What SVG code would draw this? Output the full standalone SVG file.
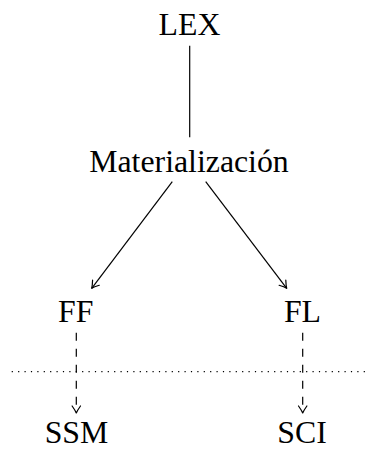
<svg xmlns="http://www.w3.org/2000/svg" width="365" height="450" viewBox="0 0 365 450">
<style>
text{font-family:"Liberation Serif","Times New Roman",serif;font-size:31.8px;fill:#000;text-anchor:middle}
.c{stroke:#000;stroke-width:1.2;fill:none}
.d{stroke-dasharray:8 8}
.o{stroke-dasharray:1.2 5.2}
</style>
<defs>
<marker id="ah" markerUnits="userSpaceOnUse" viewBox="-9 -6 11 12" refX="0" refY="0" markerWidth="11" markerHeight="12" orient="auto" overflow="visible">
<path d="M-7,-4.2 Q-2.5,-1 0,0 Q-2.5,1 -7,4.2" fill="none" stroke="#000" stroke-width="1.2" stroke-linecap="round" stroke-linejoin="round"/>
</marker>
</defs>
<rect width="365" height="450" fill="#fff"/>
<g id="connectors">
<line class="c" x1="189.7" y1="45.7" x2="189.7" y2="137.3"/>
<line class="c" x1="172.3" y1="181.7" x2="91.7" y2="288.3" marker-end="url(#ah)"/>
<line class="c" x1="205.7" y1="181.7" x2="286.7" y2="288.3" marker-end="url(#ah)"/>
<line class="c d" x1="76.3" y1="332.7" x2="76.3" y2="413" marker-end="url(#ah)"/>
<line class="c d" x1="302.7" y1="332.7" x2="302.7" y2="413" marker-end="url(#ah)"/>
<line class="c o" x1="11.7" y1="371.7" x2="365" y2="371.7"/>
</g>
<g id="LEX"><text x="189.5" y="34.5">LEX</text></g>
<g id="Materializacion"><text x="189" y="171.5">Materialización</text></g>
<g id="FF"><text x="75.8" y="321.7">FF</text></g>
<g id="FL"><text x="302.5" y="321.7">FL</text></g>
<g id="SSM"><text x="76.5" y="442.5">SSM</text></g>
<g id="SCI"><text x="302" y="442.5">SCI</text></g>
</svg>
